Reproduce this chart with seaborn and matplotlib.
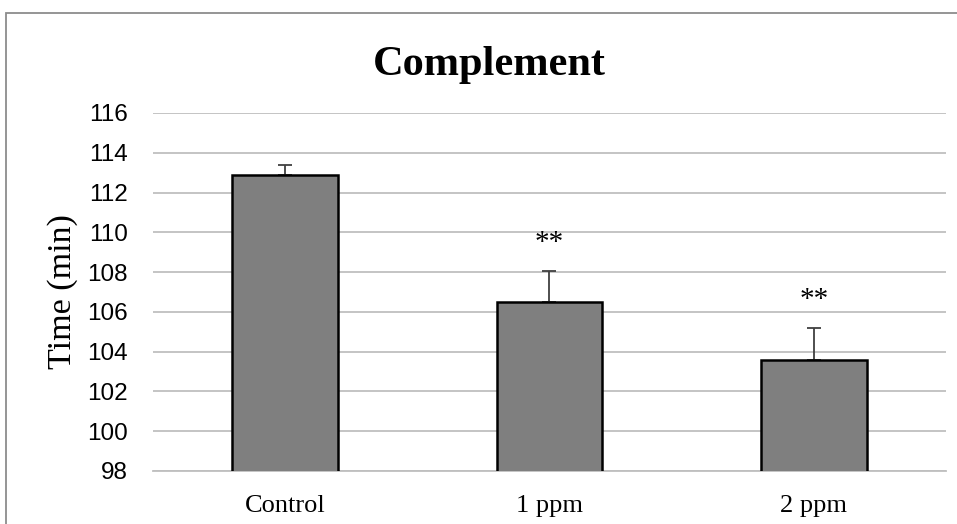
import matplotlib
matplotlib.use("Agg")
import matplotlib.pyplot as plt
import seaborn as sns
import pandas as pd
import numpy as np
from matplotlib.patches import Rectangle

categories = ["Control", "1 ppm", "2 ppm"]
values = [112.9, 106.5, 103.6]
errors = [0.5, 1.55, 1.6]
stars = ["", "**", "**"]
yticks = [98, 100, 102, 104, 106, 108, 110, 112, 114, 116]

sns.set_theme(style="white")
plt.rcParams["font.family"] = ["Liberation Serif", "DejaVu Sans"]

df = pd.DataFrame({"group": categories, "time": values})

fig = plt.figure(figsize=(9.57, 5.24), dpi=100)
ax = fig.add_axes([153/957, 1 - 471/524, (946 - 153)/957, (471 - 113)/524])

sns.barplot(data=df, x="group", y="time", color="#7f7f7f", saturation=1,
            width=0.4, edgecolor="black", linewidth=1.8, ax=ax, zorder=3)

xpos = [p.get_x() + p.get_width()/2 for p in ax.patches]
ax.errorbar(xpos, values, yerr=[np.zeros(len(values)), errors], fmt="none",
            ecolor="#404040", elinewidth=1.3, capsize=5, capthick=1.3, zorder=2)

for x, v, e, s in zip(xpos, values, errors, stars):
    if s:
        ax.text(x, v + e + 1.4, s, ha="center", va="center", fontsize=21,
                family=["Liberation Serif"], color="#000000")

ax.set_ylim(98, 116)
ax.set_xlim(-0.5, 2.5)
ax.set_yticks(yticks)
ax.yaxis.grid(True, color="#bfbfbf", linewidth=1.3)
ax.set_axisbelow(True)
for side in ["left", "right", "top"]:
    ax.spines[side].set_visible(False)
ax.spines["bottom"].set_color("#bfbfbf")
ax.spines["bottom"].set_linewidth(1.3)

ax.tick_params(axis="both", length=0)
ax.tick_params(axis="y", pad=18)
ax.tick_params(axis="x", pad=17)
for lab in ax.get_yticklabels():
    lab.set_family(["Liberation Sans"])
    lab.set_fontsize(17.5)
    lab.set_color("#000000")
for lab in ax.get_xticklabels():
    lab.set_family(["Liberation Serif"])
    lab.set_fontsize(19)
    lab.set_color("#000000")

ax.set_xlabel("")
ax.set_ylabel("Time (min)", fontsize=24.5, family=["Liberation Serif"], color="#000000")
ax.yaxis.set_label_coords((78 - 153)/793, 0.5)

fig.text(489/957, 1 - 65/524, "Complement", ha="center", va="center",
         fontsize=30.5, fontweight="bold", family=["Liberation Serif"], color="#000000")

fig.patches.append(Rectangle((5.5/957, -0.2), 1.5, 1.2 - 13/524,
                             transform=fig.transFigure, fill=False,
                             edgecolor="#8c8c8c", linewidth=1.3, zorder=0))

fig.savefig("out.png", dpi=100, facecolor="white")
